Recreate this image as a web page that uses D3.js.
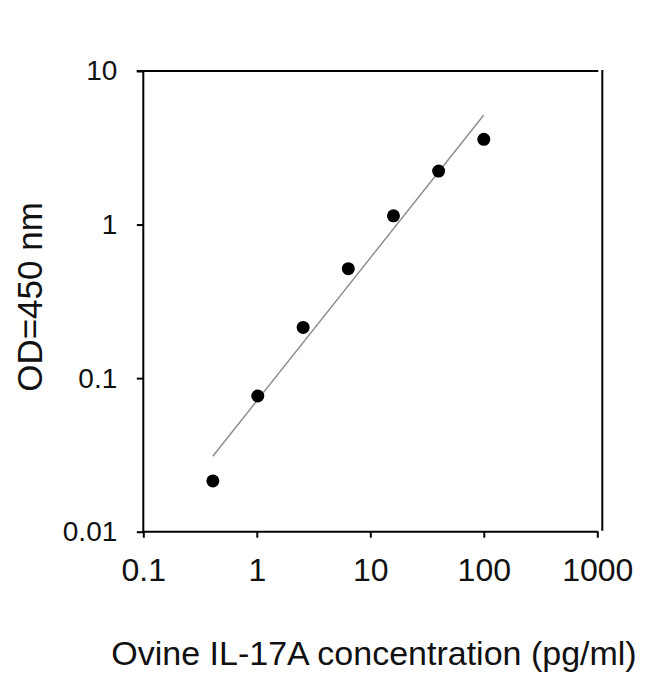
<!DOCTYPE html>
<html>
<head>
<meta charset="utf-8">
<script src="https://cdn.jsdelivr.net/npm/d3@7"></script>
<style>
  html, body { margin: 0; padding: 0; background: #fff; }
  svg { display: block; font-family: Arial, "Liberation Sans", sans-serif; }
</style>
</head>
<body>
<svg id="chart" width="650" height="674"></svg>
<script>
// ---- data ----
const concentration = [0.41, 1.02, 2.56, 6.4, 16, 40, 100];      // pg/ml
const odValues      = [0.0214, 0.0765, 0.214, 0.516, 1.14, 2.23, 3.59];
const fitX = [0.41, 100];
const fitY = [0.031, 5.17];
const xTicks = [0.1, 1, 10, 100, 1000];
const yTicks = [0.01, 0.1, 1, 10];
const xTickLabels = ["0.1", "1", "10", "100", "1000"];
const yTickLabels = ["0.01", "0.1", "1", "10"];
const xTitle = "Ovine IL-17A concentration (pg/ml)";
const yTitle = "OD=450 nm";

// ---- layout ----
const plotLeft = 143.3, plotRight = 597.3, plotTop = 71, plotBottom = 531.7;
const svg = d3.select("#chart");

const x = d3.scaleLog().domain([0.1, 1000]).range([plotLeft, plotRight]);
const y = d3.scaleLog().domain([0.01, 10]).range([plotBottom, plotTop]);

// top frame line and right frame line
svg.append("line")
  .attr("x1", plotLeft - 6.5).attr("x2", plotRight + 1)
  .attr("y1", y(10)).attr("y2", y(10))
  .attr("stroke", "#000").attr("stroke-width", 2);
svg.append("line")
  .attr("x1", plotRight + 5).attr("x2", plotRight + 5)
  .attr("y1", y(10) - 1).attr("y2", plotBottom - 1)
  .attr("stroke", "#000").attr("stroke-width", 2);

// x axis
const xAxis = d3.axisBottom(x)
  .tickValues(xTicks)
  .tickFormat((d, i) => xTickLabels[i])
  .tickSizeInner(6).tickSizeOuter(0).tickPadding(21);
const gx = svg.append("g").attr("transform", `translate(0,${plotBottom})`).call(xAxis);
gx.select(".domain").attr("stroke", "#000").attr("stroke-width", 2)
  .attr("d", `M${plotLeft - 1},0H${plotRight + 1}`);
gx.selectAll(".tick line").attr("stroke", "#000").attr("stroke-width", 2);
gx.selectAll(".tick text").attr("fill", "#111").attr("font-size", 32)
  .attr("font-family", "Arial, 'Liberation Sans', sans-serif");

// y axis
const yAxis = d3.axisLeft(y)
  .tickValues(yTicks)
  .tickFormat((d, i) => yTickLabels[i])
  .tickSizeInner(6.5).tickSizeOuter(0).tickPadding(19.5);
const gy = svg.append("g").attr("transform", `translate(${plotLeft},0)`).call(yAxis);
gy.select(".domain").attr("stroke", "#000").attr("stroke-width", 2)
  .attr("d", `M0,${plotTop - 1}V${plotBottom + 1}`);
gy.selectAll(".tick line").attr("stroke", "#000").attr("stroke-width", 2);
gy.selectAll(".tick text").attr("fill", "#111").attr("font-size", 28)
  .attr("font-family", "Arial, 'Liberation Sans', sans-serif");

// fitted line
const line = d3.line().x(d => x(d[0])).y(d => y(d[1]));
svg.append("path")
  .datum(fitX.map((v, i) => [v, fitY[i]]))
  .attr("d", line)
  .attr("fill", "none")
  .attr("stroke", "#8a8a8a")
  .attr("stroke-width", 1.4);

// points
svg.append("g").selectAll("circle")
  .data(concentration.map((v, i) => [v, odValues[i]]))
  .join("circle")
  .attr("cx", d => x(d[0]))
  .attr("cy", d => y(d[1]))
  .attr("r", 6.5)
  .attr("fill", "#000");

// axis titles
svg.append("text")
  .attr("x", 374).attr("y", 665)
  .attr("text-anchor", "middle")
  .attr("font-size", 34)
  .attr("fill", "#111")
  .text(xTitle);

svg.append("text")
  .attr("transform", "translate(42,297) rotate(-90)")
  .attr("text-anchor", "middle")
  .attr("font-size", 35)
  .attr("fill", "#111")
  .text(yTitle);
</script>
</body>
</html>
